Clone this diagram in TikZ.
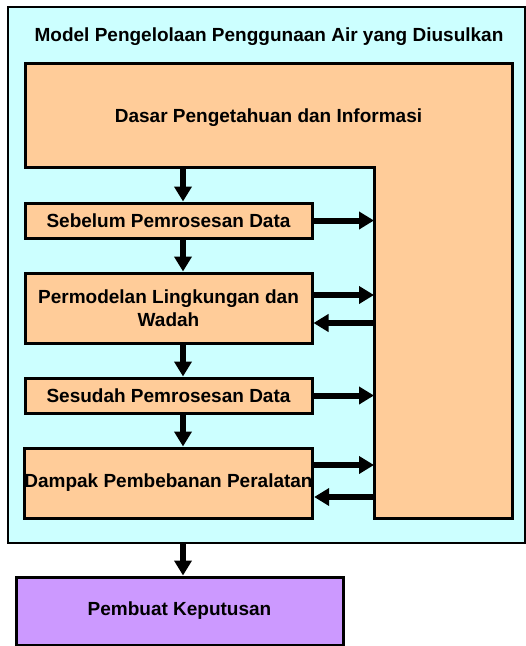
\documentclass[tikz,border=0pt]{standalone}
\usepackage{fontspec}
\setmainfont{Liberation Sans}
\usetikzlibrary{arrows.meta}

\definecolor{airbg}{HTML}{CCFFFF}
\definecolor{boxor}{HTML}{FFCC99}
\definecolor{boxpu}{HTML}{CC99FF}

\begin{document}
\begin{tikzpicture}[x=1pt,y=-1pt,
    every node/.style={font=\bfseries\fontsize{19}{23}\selectfont,inner sep=0pt},
    stage/.style={draw,line width=3pt,fill=boxor,minimum width=287pt},
    arr/.style={line width=6pt,-{Triangle[length=15pt,width=17pt]}}]
    \useasboundingbox (0,0) rectangle (526,646);

	\node[draw,line width=2pt,fill=airbg,minimum width=517pt,minimum height=536pt] (model) at (266.5,275) {};
	\node (title) at (269,37) {Model Pengelolaan Penggunaan Air yang Diusulkan};

	\filldraw[fill=boxor,line width=3pt] (25,63) -- (512,63) -- (512,518) -- (374,518) -- (374,167) -- (25,167) -- cycle;
	\node (dasar) at (268.5,118) {Dasar Pengetahuan dan Informasi};
	\coordinate (kb) at (374,167);
	\coordinate (ax) at (183,167);

	\node[stage,minimum height=35pt] (pre) at (168.5,220.5) {Sebelum Pemrosesan Data};
	\node[stage,minimum height=70pt,align=center] (env) at (168.5,308) {Permodelan Lingkungan dan\\Wadah};
	\node[stage,minimum height=35pt] (post) at (168.5,395.5) {Sesudah Pemrosesan Data};
	\node[stage,minimum height=70pt] (load) at (168.5,483) {Dampak Pembebanan Peralatan};

	\node[draw,line width=3pt,fill=boxpu,minimum width=327pt,minimum height=68pt] (dss) at (179.5,611) {Pembuat Keputusan};

  \draw[arr] (ax) -- (ax |- pre.north);
  \draw[arr] (pre.south -| ax) -- (ax |- env.north);
  \draw[arr] (env.south -| ax) -- (ax |- post.north);
  \draw[arr] (post.south -| ax) -- (ax |- load.north);
  \draw[arr] (model.south -| ax) -- (ax |- dss.north);

  \draw[arr] (pre.east) -- (pre.east -| kb);
  \draw[arr] ([yshift=13pt]env.east) -- ([yshift=13pt]env.east -| kb);
  \draw[arr] ([yshift=-15pt]env.east -| kb) -- ([yshift=-15pt]env.east);
  \draw[arr] (post.east) -- (post.east -| kb);
  \draw[arr] ([yshift=18pt]load.east) -- ([yshift=18pt]load.east -| kb);
  \draw[arr] ([yshift=-14pt]load.east -| kb) -- ([yshift=-14pt]load.east);
\end{tikzpicture}
\end{document}
